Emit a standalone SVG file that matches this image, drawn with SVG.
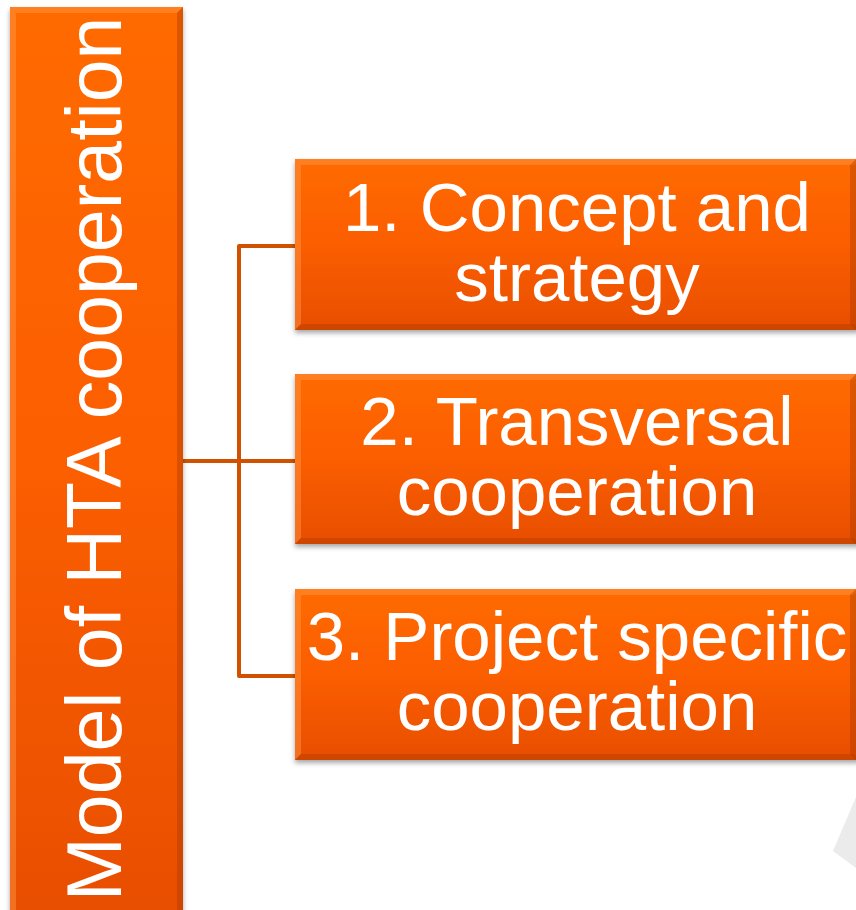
<svg xmlns="http://www.w3.org/2000/svg" width="856" height="910" viewBox="0 0 856 910">
<defs>
<linearGradient id="gv" x1="0" y1="0" x2="0" y2="1">
<stop offset="0" stop-color="#FF6A00"/>
<stop offset="0.5" stop-color="#FB5E00"/>
<stop offset="1" stop-color="#E84E04"/>
</linearGradient>
<filter id="sh" x="-5%" y="-5%" width="110%" height="115%">
<feDropShadow dx="0" dy="3" stdDeviation="2.5" flood-color="#000" flood-opacity="0.35"/>
</filter>
<style>
.box{fill:url(#gv);filter:url(#sh);}
.bl{fill:#FF9A4A;opacity:0.45;}
.bd{fill:#A83A00;opacity:0.4;}
.t{font-family:"Liberation Sans",Arial,sans-serif;fill:#FFFFFF;text-anchor:middle;}
.c{stroke:#D05200;stroke-width:4;fill:none;stroke-linejoin:round;}
</style>
</defs>
<rect width="856" height="910" fill="#FFFFFF"/>
<polygon points="856,797 833,851 856,868" fill="#EBEBEB"/>
<g id="connectors">
<path class="c" d="M183,461 H295"/>
<path class="c" d="M295,246 H239 V676 H295"/>
</g>
<g id="node-main">
<rect class="box" x="10" y="7" width="173" height="920"/>
<polygon class="bl" points="10,7 183,7 177,13 16,13"/>
<polygon class="bl" points="10,7 16,13 16,920 10,920"/>
<polygon class="bd" points="183,7 183,920 177,920 177,13"/>
<text class="t" font-size="77" transform="translate(121,459) rotate(-90)">Model of HTA cooperation</text>
</g>
<g id="node-1">
<rect class="box" x="295" y="159" width="565" height="171"/>
<polygon class="bl" points="295,159 860,159 854,165 301,165"/>
<polygon class="bl" points="295,159 301,165 301,324 295,330"/>
<polygon class="bd" points="295,330 860,330 854,324 301,324"/>
<polygon class="bd" points="856,159 856,330 850,324 850,165"/>
<text class="t" font-size="69" x="577" y="231">1. Concept and</text>
<text class="t" font-size="69" x="577" y="301">strategy</text>
</g>
<g id="node-2">
<rect class="box" x="295" y="374" width="565" height="170"/>
<polygon class="bl" points="295,374 860,374 854,380 301,380"/>
<polygon class="bl" points="295,374 301,380 301,538 295,544"/>
<polygon class="bd" points="295,544 860,544 854,538 301,538"/>
<polygon class="bd" points="856,374 856,544 850,538 850,380"/>
<text class="t" font-size="69" x="577" y="445">2. Transversal</text>
<text class="t" font-size="69" x="577" y="515">cooperation</text>
</g>
<g id="node-3">
<rect class="box" x="295" y="589" width="565" height="171"/>
<polygon class="bl" points="295,589 860,589 854,595 301,595"/>
<polygon class="bl" points="295,589 301,595 301,754 295,760"/>
<polygon class="bd" points="295,760 860,760 854,754 301,754"/>
<polygon class="bd" points="856,589 856,760 850,754 850,595"/>
<text class="t" font-size="69" x="577" y="660">3. Project specific</text>
<text class="t" font-size="69" x="577" y="730">cooperation</text>
</g>
</svg>
